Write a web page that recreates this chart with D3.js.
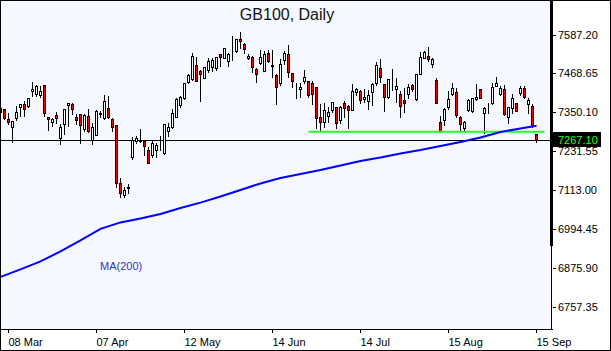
<!DOCTYPE html>
<html>
<head>
<meta charset="utf-8">
<script src="https://cdn.jsdelivr.net/npm/d3@7"></script>
<style>
  html, body { margin: 0; padding: 0; background: #fff; }
  svg { display: block; font-family: "Liberation Sans", Arial, sans-serif; }
</style>
</head>
<body>
<div id="chart"></div>
<script>
"use strict";
const W = 611, H = 351; // px

const title = "GB100, Daily";
const lastPrice = 7267.10;
const supportLevel = 7292;      // green horizontal line
const supportFrom = 77, supportTo = 136; // bar index

const tickIndex = [2, 24, 46, 68, 90, 112, 134];
const tickLabels = ["08 Mar", "07 Apr", "12 May", "14 Jun", "14 Jul", "15 Aug", "15 Sep"];
const priceTicks = [6757.35, 6875.90, 6994.45, 7113.00, 7231.55, 7350.10, 7468.65, 7587.20];

// daily OHLC, one entry per bar
const open = [
  7352.4, 7361.6, 7330.1, 7305.7, 7333.2, 7366.7, 7376.8, 7370.7, 7417.4, 7407.3,
  7404.3, 7434.8, 7336.2, 7322.8, 7342.3, 7274.0, 7314.9, 7373.8, 7375.9, 7338.1,
  7346.3, 7301.5, 7339.3, 7267.0, 7282.3, 7346.9, 7333.2, 7363.7, 7331.1, 7311.8,
  7134.9, 7099.3, 7120.6, 7214.2, 7264.9, 7264.0, 7264.0, 7236.5, 7221.3, 7235.6,
  7259.4, 7228.3, 7295.4, 7305.7, 7338.1, 7372.8, 7396.0, 7444.8, 7452.1, 7495.8,
  7477.5, 7457.0, 7480.5, 7488.7, 7485.7, 7528.4, 7518.0, 7508.9, 7527.8, 7538.5,
  7575.1, 7559.8, 7516.2, 7519.2, 7483.6, 7500.9, 7478.4, 7533.3, 7492.7, 7465.3,
  7439.9, 7511.0, 7528.4, 7470.4, 7427.1, 7421.6, 7447.9, 7447.0, 7441.8, 7427.7,
  7336.2, 7321.0, 7340.2, 7358.5, 7366.7, 7328.0, 7378.9, 7370.7, 7358.5, 7414.3,
  7416.5, 7391.1, 7386.9, 7412.5, 7439.9, 7485.7, 7436.9, 7399.1, 7439.3, 7421.6,
  7406.4, 7389.0, 7407.3, 7434.8, 7391.1, 7468.3, 7518.0, 7523.2, 7498.8, 7450.0,
  7321.0, 7328.0, 7366.7, 7407.3, 7412.5, 7338.1, 7304.5, 7358.5, 7355.5, 7392.1,
  7421.6, 7348.4, 7378.3, 7378.9, 7432.6, 7407.3, 7421.6, 7338.1, 7363.7, 7378.9,
  7409.4, 7424.7, 7375.9, 7370.7, 7284.4
];
const high = [
  7367.7, 7365.5, 7353.3, 7328.0, 7373.8, 7378.9, 7389.0, 7399.1, 7447.0, 7436.9,
  7434.8, 7437.8, 7341.1, 7338.1, 7354.5, 7317.9, 7365.5, 7382.0, 7382.0, 7350.3,
  7350.3, 7348.4, 7363.7, 7322.8, 7361.6, 7358.5, 7407.3, 7404.3, 7338.1, 7312.8,
  7155.1, 7127.6, 7134.9, 7279.2, 7282.3, 7302.7, 7267.0, 7248.7, 7267.0, 7260.0,
  7282.3, 7317.9, 7321.0, 7363.7, 7399.1, 7404.3, 7444.8, 7470.4, 7534.5, 7523.2,
  7482.6, 7490.6, 7519.2, 7521.1, 7523.2, 7531.4, 7551.6, 7534.5, 7587.3, 7577.2,
  7599.5, 7566.8, 7531.4, 7526.3, 7490.6, 7544.6, 7541.5, 7544.6, 7543.6, 7470.4,
  7516.2, 7541.5, 7558.9, 7473.5, 7444.8, 7444.8, 7483.6, 7450.0, 7450.0, 7429.6,
  7380.8, 7383.8, 7371.6, 7386.0, 7370.7, 7373.8, 7389.0, 7376.8, 7441.8, 7429.6,
  7421.6, 7424.7, 7421.6, 7444.8, 7508.0, 7516.2, 7439.9, 7455.2, 7485.7, 7460.1,
  7419.5, 7429.6, 7439.9, 7439.9, 7472.3, 7538.5, 7541.5, 7553.7, 7521.1, 7460.1,
  7343.3, 7368.6, 7419.5, 7444.8, 7429.6, 7343.3, 7328.0, 7394.2, 7399.1, 7439.9,
  7424.7, 7370.7, 7383.8, 7444.8, 7462.2, 7434.8, 7437.8, 7371.6, 7409.4, 7380.8,
  7434.8, 7434.8, 7399.1, 7380.8, 7285.3
];
const low = [
  7349.4, 7331.1, 7314.9, 7261.8, 7328.0, 7341.1, 7340.2, 7366.7, 7402.1, 7402.1,
  7399.1, 7341.1, 7297.5, 7309.7, 7319.8, 7254.8, 7284.4, 7310.6, 7345.4, 7314.9,
  7258.8, 7295.4, 7291.4, 7254.8, 7280.7, 7336.2, 7331.1, 7333.2, 7295.4, 7124.6,
  7094.1, 7094.1, 7104.4, 7210.0, 7256.9, 7261.8, 7222.2, 7195.9, 7216.1, 7216.1,
  7236.5, 7225.2, 7280.1, 7302.7, 7336.2, 7368.6, 7392.1, 7439.9, 7450.0, 7447.0,
  7386.9, 7455.2, 7475.3, 7478.4, 7480.5, 7493.6, 7516.2, 7493.6, 7511.0, 7534.5,
  7546.7, 7531.4, 7513.1, 7473.5, 7444.8, 7498.8, 7477.5, 7504.9, 7460.1, 7375.9,
  7434.8, 7498.8, 7460.1, 7429.6, 7394.2, 7397.2, 7439.9, 7399.1, 7376.8, 7302.7,
  7297.5, 7305.7, 7321.0, 7353.3, 7302.7, 7317.9, 7336.2, 7302.7, 7357.0, 7404.3,
  7378.9, 7383.8, 7361.6, 7373.8, 7434.8, 7444.8, 7356.4, 7396.0, 7419.5, 7383.8,
  7338.1, 7353.3, 7394.2, 7416.5, 7389.0, 7467.4, 7516.2, 7508.0, 7488.7, 7378.3,
  7292.3, 7312.8, 7361.6, 7404.3, 7338.1, 7297.5, 7297.5, 7355.5, 7353.3, 7389.0,
  7394.2, 7289.3, 7348.4, 7376.8, 7431.7, 7404.3, 7343.3, 7317.9, 7348.4, 7355.5,
  7404.3, 7394.2, 7348.4, 7307.6, 7261.8
];
const close = [
  7364.6, 7333.2, 7321.0, 7325.0, 7351.5, 7375.9, 7360.6, 7395.1, 7421.6, 7431.7,
  7416.5, 7348.4, 7330.1, 7330.1, 7333.2, 7305.7, 7360.6, 7378.3, 7360.6, 7328.9,
  7311.8, 7342.3, 7293.5, 7305.7, 7356.4, 7350.0, 7386.0, 7338.1, 7305.7, 7134.9,
  7104.4, 7114.5, 7122.1, 7267.0, 7273.1, 7265.5, 7248.7, 7197.8, 7256.9, 7250.8,
  7260.9, 7314.9, 7305.7, 7348.4, 7391.1, 7399.1, 7439.9, 7465.3, 7523.2, 7447.9,
  7467.4, 7488.7, 7508.0, 7510.1, 7519.2, 7521.1, 7546.7, 7529.3, 7529.3, 7575.1,
  7569.0, 7543.6, 7524.1, 7490.6, 7467.4, 7519.2, 7528.4, 7508.0, 7494.2, 7427.7,
  7497.9, 7531.4, 7473.5, 7447.9, 7428.7, 7428.7, 7458.2, 7404.3, 7406.4, 7333.2,
  7321.0, 7358.5, 7351.5, 7383.8, 7319.8, 7368.6, 7363.7, 7358.5, 7416.5, 7421.6,
  7389.0, 7398.2, 7404.3, 7436.9, 7495.8, 7458.2, 7399.1, 7452.1, 7440.9, 7431.7,
  7371.6, 7380.8, 7427.7, 7421.6, 7467.4, 7519.2, 7536.3, 7513.1, 7514.1, 7378.9,
  7295.4, 7361.6, 7391.1, 7424.7, 7343.3, 7314.9, 7321.0, 7389.0, 7394.2, 7399.1,
  7396.0, 7363.7, 7379.9, 7427.7, 7439.9, 7424.7, 7345.4, 7368.6, 7394.2, 7356.4,
  7424.7, 7399.1, 7389.0, 7309.7, 7267.1
];

// MA(200), read every 5 bars
const maIndex = [0, 5, 10, 15, 20, 25, 30, 35, 40, 45, 50, 55, 60, 65, 70, 75, 80, 85, 90, 95,
  100, 105, 110, 115, 120, 125, 130, 134];
const maValue = [6849.2, 6872.0, 6896.4, 6926.9, 6960.5, 6995.6, 7015.4, 7027.6, 7041.3, 7059.6,
  7075.8, 7094.7, 7114.5, 7134.3, 7151.1, 7163.3, 7175.5, 7189.2, 7203.0, 7213.6,
  7225.8, 7236.5, 7248.7, 7260.9, 7274.6, 7291.4, 7302.1, 7310.6];

const plot = {left: 1, top: 1, right: 551, bottom: 329};

const x = d3.scaleLinear().domain([0, 134]).range([0.5, 536.5]);
const y = d3.scaleLinear().domain([6757.35, 7587.20]).range([307, 35]);
const py = (v) => Math.round(y(v));

const svg = d3.select("#chart").append("svg")
    .attr("width", W)
    .attr("height", H);

svg.append("rect")
    .attr("x", 0.5).attr("y", 0.5)
    .attr("width", W - 1).attr("height", H - 1)
    .attr("fill", "#fff").attr("stroke", "#000");

svg.append("rect")
    .attr("x", plot.left).attr("y", plot.top)
    .attr("width", plot.right - plot.left).attr("height", plot.bottom - plot.top)
    .attr("fill", "#f5f8ff");

svg.append("clipPath").attr("id", "clip")
    .append("rect")
    .attr("x", plot.left).attr("y", plot.top)
    .attr("width", plot.right - plot.left).attr("height", plot.bottom - plot.top);

const g = svg.append("g").attr("clip-path", "url(#clip)");

// last price line
g.append("line")
    .attr("x1", 0).attr("x2", plot.right)
    .attr("y1", py(lastPrice) + 0.5).attr("y2", py(lastPrice) + 0.5)
    .attr("stroke", "#000");

// candles
const bars = d3.range(open.length).map((i) => ({
    i, o: open[i], h: high[i], l: low[i], c: close[i]
}));

const candle = g.append("g").attr("shape-rendering", "crispEdges")
    .selectAll("g")
    .data(bars)
    .join("g");

candle.append("line")
    .attr("x1", (d) => x(d.i)).attr("x2", (d) => x(d.i))
    .attr("y1", (d) => py(d.h) + 0.5).attr("y2", (d) => py(d.l) + 0.5)
    .attr("stroke", "#000");

candle.append("rect")
    .attr("x", (d) => x(d.i) - 1)
    .attr("y", (d) => py(Math.max(d.o, d.c)) + 0.5)
    .attr("width", 2)
    .attr("height", (d) => py(Math.min(d.o, d.c)) - py(Math.max(d.o, d.c)))
    .attr("fill", (d) => (d.c < d.o ? "#ff0000" : "#fff"))
    .attr("stroke", "#000");

// support level
g.append("line")
    .attr("x1", x(supportFrom)).attr("x2", x(supportTo))
    .attr("y1", y(supportLevel)).attr("y2", y(supportLevel))
    .attr("stroke", "#22ff22").attr("stroke-width", 2);

// moving average
const ma = maIndex.map((d, k) => [d, maValue[k]]);
g.append("path")
    .datum(ma)
    .attr("fill", "none")
    .attr("stroke", "#0000ff")
    .attr("stroke-width", 2)
    .attr("d", d3.line().x((d) => x(d[0])).y((d) => y(d[1])));

g.append("text")
    .attr("x", 100).attr("y", 270)
    .attr("font-size", 11)
    .attr("fill", "#3030d8")
    .text("MA(200)");

// title
svg.append("text")
    .attr("x", 287).attr("y", 20)
    .attr("text-anchor", "middle")
    .attr("font-size", 16)
    .attr("fill", "#111")
    .text(title);

// axis frame
svg.append("line")
    .attr("x1", 0).attr("x2", plot.right + 2)
    .attr("y1", plot.bottom + 0.5).attr("y2", plot.bottom + 0.5)
    .attr("stroke", "#000");
svg.append("line")
    .attr("x1", plot.right + 0.5).attr("x2", plot.right + 0.5)
    .attr("y1", 0).attr("y2", plot.bottom + 1)
    .attr("stroke", "#000");
svg.append("rect")
    .attr("x", plot.right - 1).attr("y", 0)
    .attr("width", 3).attr("height", 246)
    .attr("fill", "#000");

// right price axis
const yAxis = d3.axisRight(y)
    .tickValues(priceTicks)
    .tickFormat(d3.format(".2f"))
    .tickSize(3)
    .tickPadding(2)
    .offset(0);

svg.append("g")
    .attr("transform", `translate(${plot.right + 2},0)`)
    .attr("shape-rendering", "crispEdges")
    .call(yAxis)
    .call((a) => a.select(".domain").remove())
    .call((a) => a.selectAll("text")
        .attr("font-family", "Liberation Sans, Arial, sans-serif")
        .attr("font-size", 11)
        .attr("fill", "#000"));

// bottom date axis
const xAxis = d3.axisBottom(x)
    .tickValues(tickIndex)
    .tickFormat((d, k) => tickLabels[k])
    .tickSize(3)
    .tickPadding(5)
    .offset(0);

svg.append("g")
    .attr("transform", `translate(0,${plot.bottom + 1})`)
    .attr("shape-rendering", "crispEdges")
    .call(xAxis)
    .call((a) => a.select(".domain").remove())
    .call((a) => a.selectAll("text")
        .attr("text-anchor", "start")
        .attr("font-family", "Liberation Sans, Arial, sans-serif")
        .attr("font-size", 11)
        .attr("fill", "#000"));

// last price tag
svg.append("rect")
    .attr("x", plot.right + 2).attr("y", py(lastPrice) - 8)
    .attr("width", 48).attr("height", 15)
    .attr("fill", "#000");
svg.append("text")
    .attr("x", plot.right + 7).attr("y", py(lastPrice) + 4)
    .attr("font-size", 11)
    .attr("fill", "#22ff22")
    .text(d3.format(".2f")(lastPrice));
</script>
</body>
</html>
